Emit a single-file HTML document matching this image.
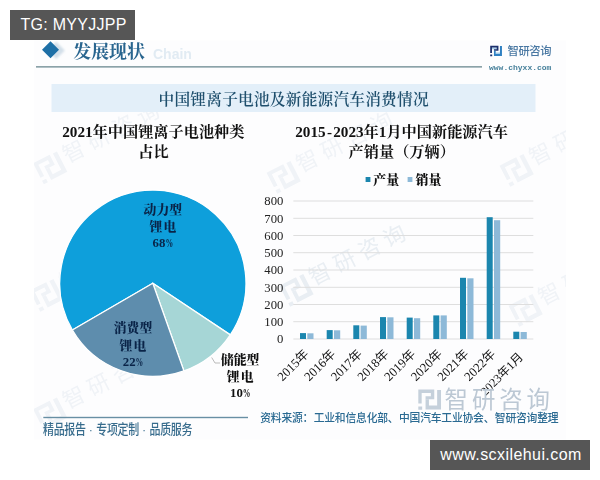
<!DOCTYPE html>
<html lang="zh-CN">
<head>
<meta charset="utf-8">
<title>中国锂离子电池及新能源汽车消费情况</title>
<style>
html,body{margin:0;padding:0;background:#fff;}
body{width:600px;height:480px;position:relative;overflow:hidden;font-family:"Liberation Sans",sans-serif;}
#chart{position:absolute;left:0;top:0;width:600px;height:480px;display:block;will-change:transform;}
#chart svg{display:block;}
.tag{position:absolute;background:#565656;color:#fff;font-family:"Liberation Sans",sans-serif;font-size:16px;line-height:30px;height:30px;padding:0 0 0 10.5px;letter-spacing:0.27px;white-space:nowrap;box-sizing:border-box;}
#tg{left:10px;top:10px;width:125px;}
#site{left:430px;top:440px;width:160px;letter-spacing:0.43px;padding-left:10.2px;}
</style>
</head>
<body>
<div id="chart">
<svg width="600" height="480" viewBox="0 0 600 480" role="img" aria-label="中国锂离子电池及新能源汽车消费情况">
<rect x="34" y="40.5" width="532" height="399" fill="#fdfdfe"/>
<clipPath id="imgclip"><rect x="34" y="40.5" width="532" height="399"/></clipPath>
<g clip-path="url(#imgclip)">
<g transform="translate(42 176.3) rotate(-27)" opacity="1.0"><g transform="translate(-2 -15.8) scale(2.2629)"><path fill="#f0f3f7" d="M0 0H8.25V5H3.75V3.5H6.5V1.75H1.75V7.25H0ZM0 8.75H2V10.5H0Z"/><path fill="#f0f3f7" d="M9.75 0.2H11.75V10.3H3.75V5H5.5V8.3H9.75Z"/></g><g transform="translate(28.6 0)" fill="#f0f3f7"><text x="0" y="0" font-family="'Liberation Sans','Noto Sans CJK SC',sans-serif" font-size="22" letter-spacing="5.8">智研咨询</text></g></g>
<g transform="translate(275.5 185.8) rotate(-27)" opacity="1.0"><g transform="translate(-2 -15.8) scale(2.2629)"><path fill="#f0f3f7" d="M0 0H8.25V5H3.75V3.5H6.5V1.75H1.75V7.25H0ZM0 8.75H2V10.5H0Z"/><path fill="#f0f3f7" d="M9.75 0.2H11.75V10.3H3.75V5H5.5V8.3H9.75Z"/></g><g transform="translate(28.6 0)" fill="#f0f3f7"><text x="0" y="0" font-family="'Liberation Sans','Noto Sans CJK SC',sans-serif" font-size="22" letter-spacing="5.8">智研咨询</text></g></g>
<g transform="translate(508.5 178.8) rotate(-27)" opacity="1.0"><g transform="translate(-2 -15.8) scale(2.2629)"><path fill="#f0f3f7" d="M0 0H8.25V5H3.75V3.5H6.5V1.75H1.75V7.25H0ZM0 8.75H2V10.5H0Z"/><path fill="#f0f3f7" d="M9.75 0.2H11.75V10.3H3.75V5H5.5V8.3H9.75Z"/></g><g transform="translate(28.6 0)" fill="#f0f3f7"><text x="0" y="0" font-family="'Liberation Sans','Noto Sans CJK SC',sans-serif" font-size="22" letter-spacing="5.8">智研咨询</text></g></g>
<g transform="translate(38.5 303.8) rotate(-27)" opacity="1.0"><g transform="translate(-2 -15.8) scale(2.2629)"><path fill="#f0f3f7" d="M0 0H8.25V5H3.75V3.5H6.5V1.75H1.75V7.25H0ZM0 8.75H2V10.5H0Z"/><path fill="#f0f3f7" d="M9.75 0.2H11.75V10.3H3.75V5H5.5V8.3H9.75Z"/></g><g transform="translate(28.6 0)" fill="#f0f3f7"><text x="0" y="0" font-family="'Liberation Sans','Noto Sans CJK SC',sans-serif" font-size="22" letter-spacing="5.8">智研咨询</text></g></g>
<g transform="translate(288.3 298.8) rotate(-27)" opacity="1.0"><g transform="translate(-2 -15.8) scale(2.2629)"><path fill="#e9eef3" d="M0 0H8.25V5H3.75V3.5H6.5V1.75H1.75V7.25H0ZM0 8.75H2V10.5H0Z"/><path fill="#e9eef3" d="M9.75 0.2H11.75V10.3H3.75V5H5.5V8.3H9.75Z"/></g><g transform="translate(28.6 0)" fill="#e9eef3"><text x="0" y="0" font-family="'Liberation Sans','Noto Sans CJK SC',sans-serif" font-size="22" letter-spacing="5.8">智研咨询</text></g></g>
<g transform="translate(517.5 318.8) rotate(-27)" opacity="1.0"><g transform="translate(-2 -15.8) scale(2.2629)"><path fill="#f0f3f7" d="M0 0H8.25V5H3.75V3.5H6.5V1.75H1.75V7.25H0ZM0 8.75H2V10.5H0Z"/><path fill="#f0f3f7" d="M9.75 0.2H11.75V10.3H3.75V5H5.5V8.3H9.75Z"/></g><g transform="translate(28.6 0)" fill="#f0f3f7"><text x="0" y="0" font-family="'Liberation Sans','Noto Sans CJK SC',sans-serif" font-size="22" letter-spacing="5.8">智研咨询</text></g></g>
<g transform="translate(42 422.3) rotate(-27)" opacity="1.0"><g transform="translate(-2 -15.8) scale(2.2629)"><path fill="#f0f3f7" d="M0 0H8.25V5H3.75V3.5H6.5V1.75H1.75V7.25H0ZM0 8.75H2V10.5H0Z"/><path fill="#f0f3f7" d="M9.75 0.2H11.75V10.3H3.75V5H5.5V8.3H9.75Z"/></g><g transform="translate(28.6 0)" fill="#f0f3f7"><text x="0" y="0" font-family="'Liberation Sans','Noto Sans CJK SC',sans-serif" font-size="22" letter-spacing="5.8">智研咨询</text></g></g>
</g>
<filter id="soft" x="-30%" y="-30%" width="160%" height="160%"><feGaussianBlur stdDeviation="0.9"/></filter>
<path fill="#d3dfe9" filter="url(#soft)" d="M47.6 50.4L56.2 41.8L64.8 50.4L56.2 59Z"/>
<path fill="#1d6fa6" d="M42 49.7L50.5 41.2L59 49.7L50.5 58.2Z"/>
<g transform="translate(73.3 57.7)" fill="#29658f"><title>发展现状</title><text x="0" y="0" font-family="'Liberation Serif','Noto Serif CJK SC',serif" font-weight="700" font-size="17.9">发展现状</text></g>
<text x="153" y="58.5" font-family="Liberation Sans" font-weight="700" font-size="14" fill="#e1ebf3">Chain</text>
<rect x="36" y="66.1" width="446" height="1.5" fill="#7f989f"/>
<g transform="translate(490.2 45.8) scale(1.0000)"><path fill="#a6cdea" d="M1.75 1.75H6.5V3.5H1.75ZM5.5 6.6H9.75V8.25H5.5Z"/><path fill="#1b2f6c" d="M0 0H8.25V5H3.75V3.5H6.5V1.75H1.75V7.25H0ZM0 8.75H2V10.5H0Z"/><path fill="#2f80c2" d="M9.75 0.2H11.75V10.3H3.75V5H5.5V8.3H9.75Z"/></g>
<g transform="translate(507.6 55.2)" fill="#4877a2"><title>智研咨询</title><text x="0" y="0" font-family="'Liberation Sans','Noto Sans CJK SC',sans-serif" font-weight="500" font-size="11.3" letter-spacing="-0.45">智研咨询</text></g>
<text x="489" y="69.6" font-family="Liberation Mono" font-weight="700" font-size="8" fill="#47809b" textLength="62.4">www.chyxx.com</text>
<rect x="51.5" y="84" width="484" height="28" fill="#e3eff9"/>
<g transform="translate(293.7 105)" fill="#1f4f6d"><title>中国锂离子电池及新能源汽车消费情况</title><text x="-135.15" y="0" font-family="'Liberation Serif','Noto Serif CJK SC',serif" font-weight="600" font-size="15.7" letter-spacing="0.21">中国锂离子电池及新能源汽车消费情况</text></g>
<g transform="translate(153.4 137.4)" fill="#111"><title>2021年中国锂离子电池种类</title><text x="-60.8" y="0" font-family="'Liberation Serif','Noto Serif CJK SC',serif" font-weight="700" font-size="15.2">年中国锂离子电池种类</text><text x="-91.2" y="0" font-family="Liberation Serif" font-weight="700" font-size="15.2">2021</text></g>
<g transform="translate(153.4 157)" fill="#111"><title>占比</title><text x="-15.2" y="0" font-family="'Liberation Serif','Noto Serif CJK SC',serif" font-weight="700" font-size="15.2">占比</text></g>
<g transform="translate(401.6 137.4)" fill="#111"><title>2015-2023年1月中国新能源汽车</title><text x="-38" y="0" font-family="'Liberation Serif','Noto Serif CJK SC',serif" font-weight="700" font-size="15.2">年</text><text x="-15.2" y="0" font-family="'Liberation Serif','Noto Serif CJK SC',serif" font-weight="700" font-size="15.2">月中国新能源汽车</text><text x="-106.4" y="0" font-family="Liberation Serif" font-weight="700" font-size="15.2">2015</text><text x="-68.4" y="0" font-family="Liberation Serif" font-weight="700" font-size="15.2">2023</text><text x="-22.8" y="0" font-family="Liberation Serif" font-weight="700" font-size="15.2">1</text><text x="-72.2" y="0" text-anchor="middle" font-family="Liberation Serif" font-weight="700" font-size="15.2">-</text></g>
<g transform="translate(401.8 157)" fill="#111"><title>产销量（万辆）</title><text x="-53.2" y="0" font-family="'Liberation Serif','Noto Serif CJK SC',serif" font-weight="700" font-size="15.2">产销量（万辆）</text></g>
<rect x="365.6" y="177" width="4.8" height="5" fill="#1b86ae"/>
<g transform="translate(373.2 184.4)" fill="#111"><title>产量</title><text x="0" y="0" font-family="'Liberation Serif','Noto Serif CJK SC',serif" font-weight="900" font-size="13">产量</text></g>
<rect x="407.6" y="177" width="4.8" height="5" fill="#8db9d8"/>
<g transform="translate(415.6 184.4)" fill="#111"><title>销量</title><text x="0" y="0" font-family="'Liberation Serif','Noto Serif CJK SC',serif" font-weight="900" font-size="13">销量</text></g>
<path fill="#0e9fdb" stroke="#fff" stroke-width="1.25" stroke-linejoin="round" d="M152.8 283.2L72.39 330.03A93.1 93.1 0 1 1 230.30 334.86Z"/>
<path fill="#a6d6d6" stroke="#fff" stroke-width="1.25" stroke-linejoin="round" d="M152.8 283.2L230.30 334.86A93.1 93.1 0 0 1 183.93 370.96Z"/>
<path fill="#5e8dad" stroke="#fff" stroke-width="1.25" stroke-linejoin="round" d="M152.8 283.2L183.93 370.96A93.1 93.1 0 0 1 72.39 330.03Z"/>
<ellipse cx="152.85" cy="283.2" rx="93.1" ry="93.1" fill="none" stroke="#fff" stroke-width="0"/>
<g transform="translate(162.8 213.6)" fill="#0a2448"><title>动力型</title><text x="-19.2" y="0" font-family="'Liberation Serif','Noto Serif CJK SC',serif" font-weight="900" font-size="12.8">动力型</text></g>
<g transform="translate(162.8 230.8)" fill="#0a2448"><title>锂电</title><text x="-13.4" y="0" font-family="'Liberation Serif','Noto Serif CJK SC',serif" font-weight="900" font-size="12.8" letter-spacing="1.2">锂电</text></g>
<g transform="translate(162.8 246.7)" fill="#0a2448"><title>68%</title><text x="-10.2" y="0" font-family="Liberation Serif" font-weight="700" font-size="12.8">68</text><text x="2.6" y="0" font-family="Liberation Serif" font-weight="700" font-size="12.8" textLength="7.7" lengthAdjust="spacingAndGlyphs">%</text></g>
<g transform="translate(133 332.4)" fill="#0a2448"><title>消费型</title><text x="-19.2" y="0" font-family="'Liberation Serif','Noto Serif CJK SC',serif" font-weight="900" font-size="12.8">消费型</text></g>
<g transform="translate(133 349.6)" fill="#0a2448"><title>锂电</title><text x="-13.4" y="0" font-family="'Liberation Serif','Noto Serif CJK SC',serif" font-weight="900" font-size="12.8" letter-spacing="1.2">锂电</text></g>
<g transform="translate(133 365.5)" fill="#0a2448"><title>22%</title><text x="-10.2" y="0" font-family="Liberation Serif" font-weight="700" font-size="12.8">22</text><text x="2.6" y="0" font-family="Liberation Serif" font-weight="700" font-size="12.8" textLength="7.7" lengthAdjust="spacingAndGlyphs">%</text></g>
<g transform="translate(240.2 363.6)" fill="#111"><title>储能型</title><text x="-19.2" y="0" font-family="'Liberation Serif','Noto Serif CJK SC',serif" font-weight="900" font-size="12.8">储能型</text></g>
<g transform="translate(240.2 380.8)" fill="#111"><title>锂电</title><text x="-13.4" y="0" font-family="'Liberation Serif','Noto Serif CJK SC',serif" font-weight="900" font-size="12.8" letter-spacing="1.2">锂电</text></g>
<g transform="translate(240.2 396.7)" fill="#111"><title>10%</title><text x="-10.2" y="0" font-family="Liberation Serif" font-weight="700" font-size="12.8">10</text><text x="2.6" y="0" font-family="Liberation Serif" font-weight="700" font-size="12.8" textLength="7.7" lengthAdjust="spacingAndGlyphs">%</text></g>
<path d="M211.7 357.5L215 363H220" fill="none" stroke="#aaa" stroke-width="0.8"/>
<rect x="293.3" y="338.5" width="240" height="1" fill="#dedede"/>
<text x="283.4" y="343.3" text-anchor="end" font-family="Liberation Serif" font-size="12.7" fill="#222">0</text>
<rect x="293.3" y="321.2" width="240" height="1" fill="#dedede"/>
<text x="283.4" y="326.1" text-anchor="end" font-family="Liberation Serif" font-size="12.7" fill="#222">100</text>
<rect x="293.3" y="304" width="240" height="1" fill="#dedede"/>
<text x="283.4" y="308.8" text-anchor="end" font-family="Liberation Serif" font-size="12.7" fill="#222">200</text>
<rect x="293.3" y="286.8" width="240" height="1" fill="#dedede"/>
<text x="283.4" y="291.6" text-anchor="end" font-family="Liberation Serif" font-size="12.7" fill="#222">300</text>
<rect x="293.3" y="269.5" width="240" height="1" fill="#dedede"/>
<text x="283.4" y="274.3" text-anchor="end" font-family="Liberation Serif" font-size="12.7" fill="#222">400</text>
<rect x="293.3" y="252.2" width="240" height="1" fill="#dedede"/>
<text x="283.4" y="257.1" text-anchor="end" font-family="Liberation Serif" font-size="12.7" fill="#222">500</text>
<rect x="293.3" y="235" width="240" height="1" fill="#dedede"/>
<text x="283.4" y="239.8" text-anchor="end" font-family="Liberation Serif" font-size="12.7" fill="#222">600</text>
<rect x="293.3" y="217.8" width="240" height="1" fill="#dedede"/>
<text x="283.4" y="222.6" text-anchor="end" font-family="Liberation Serif" font-size="12.7" fill="#222">700</text>
<rect x="293.3" y="200.5" width="240" height="1" fill="#dedede"/>
<text x="283.4" y="205.3" text-anchor="end" font-family="Liberation Serif" font-size="12.7" fill="#222">800</text>
<rect x="300" y="333.1" width="6" height="5.9" fill="#1b86ae"/>
<rect x="307.3" y="333.3" width="6.2" height="5.7" fill="#8db9d8"/>
<g transform="translate(309.5 354.7) rotate(-45)" fill="#111"><title>2015年</title><text x="-12.7" y="0" font-family="'Liberation Sans','Noto Sans CJK SC',sans-serif" font-size="12.7">年</text><text x="-38.1" y="0" font-family="Liberation Serif" font-weight="400" font-size="12.7">2015</text></g>
<rect x="326.7" y="330.1" width="6" height="8.9" fill="#1b86ae"/>
<rect x="334" y="330.3" width="6.2" height="8.7" fill="#8db9d8"/>
<g transform="translate(336.2 354.7) rotate(-45)" fill="#111"><title>2016年</title><text x="-12.7" y="0" font-family="'Liberation Sans','Noto Sans CJK SC',sans-serif" font-size="12.7">年</text><text x="-38.1" y="0" font-family="Liberation Serif" font-weight="400" font-size="12.7">2016</text></g>
<rect x="353.3" y="325.3" width="6" height="13.7" fill="#1b86ae"/>
<rect x="360.6" y="325.6" width="6.2" height="13.4" fill="#8db9d8"/>
<g transform="translate(362.9 354.7) rotate(-45)" fill="#111"><title>2017年</title><text x="-12.7" y="0" font-family="'Liberation Sans','Noto Sans CJK SC',sans-serif" font-size="12.7">年</text><text x="-38.1" y="0" font-family="Liberation Serif" font-weight="400" font-size="12.7">2017</text></g>
<rect x="380" y="317.1" width="6" height="21.9" fill="#1b86ae"/>
<rect x="387.3" y="317.3" width="6.2" height="21.7" fill="#8db9d8"/>
<g transform="translate(389.5 354.7) rotate(-45)" fill="#111"><title>2018年</title><text x="-12.7" y="0" font-family="'Liberation Sans','Noto Sans CJK SC',sans-serif" font-size="12.7">年</text><text x="-38.1" y="0" font-family="Liberation Serif" font-weight="400" font-size="12.7">2018</text></g>
<rect x="406.7" y="317.6" width="6" height="21.4" fill="#1b86ae"/>
<rect x="414" y="318.2" width="6.2" height="20.8" fill="#8db9d8"/>
<g transform="translate(416.2 354.7) rotate(-45)" fill="#111"><title>2019年</title><text x="-12.7" y="0" font-family="'Liberation Sans','Noto Sans CJK SC',sans-serif" font-size="12.7">年</text><text x="-38.1" y="0" font-family="Liberation Serif" font-weight="400" font-size="12.7">2019</text></g>
<rect x="433.3" y="315.4" width="6" height="23.6" fill="#1b86ae"/>
<rect x="440.6" y="315.4" width="6.2" height="23.6" fill="#8db9d8"/>
<g transform="translate(442.9 354.7) rotate(-45)" fill="#111"><title>2020年</title><text x="-12.7" y="0" font-family="'Liberation Sans','Noto Sans CJK SC',sans-serif" font-size="12.7">年</text><text x="-38.1" y="0" font-family="Liberation Serif" font-weight="400" font-size="12.7">2020</text></g>
<rect x="460" y="277.8" width="6" height="61.2" fill="#1b86ae"/>
<rect x="467.3" y="278.3" width="6.2" height="60.7" fill="#8db9d8"/>
<g transform="translate(469.5 354.7) rotate(-45)" fill="#111"><title>2021年</title><text x="-12.7" y="0" font-family="'Liberation Sans','Noto Sans CJK SC',sans-serif" font-size="12.7">年</text><text x="-38.1" y="0" font-family="Liberation Serif" font-weight="400" font-size="12.7">2021</text></g>
<rect x="486.7" y="217.2" width="6" height="121.8" fill="#1b86ae"/>
<rect x="494" y="220.2" width="6.2" height="118.8" fill="#8db9d8"/>
<g transform="translate(496.2 354.7) rotate(-45)" fill="#111"><title>2022年</title><text x="-12.7" y="0" font-family="'Liberation Sans','Noto Sans CJK SC',sans-serif" font-size="12.7">年</text><text x="-38.1" y="0" font-family="Liberation Serif" font-weight="400" font-size="12.7">2022</text></g>
<rect x="513.3" y="331.7" width="6" height="7.3" fill="#1b86ae"/>
<rect x="520.6" y="332" width="6.2" height="7" fill="#8db9d8"/>
<g transform="translate(523.9 357.7) rotate(-45)" fill="#111"><title>2023年1月</title><text x="-30.25" y="0" font-family="'Liberation Sans','Noto Sans CJK SC',sans-serif" font-size="12.1">年</text><text x="-12.1" y="0" font-family="'Liberation Sans','Noto Sans CJK SC',sans-serif" font-size="12.1">月</text><text x="-54.4" y="0" font-family="Liberation Serif" font-weight="400" font-size="12.1">2023</text><text x="-18.2" y="0" font-family="Liberation Serif" font-weight="400" font-size="12.1">1</text></g>
<g transform="translate(418.3 389.5) scale(1.9333)"><path fill="#c5d0db" d="M0 0H8.25V5H3.75V3.5H6.5V1.75H1.75V7.25H0ZM0 8.75H2V10.5H0Z"/><path fill="#c5d0db" d="M9.75 0.2H11.75V10.3H3.75V5H5.5V8.3H9.75Z"/></g>
<g transform="translate(444.6 407.9)" fill="#bcc8d4"><title>智研咨询</title><text x="0" y="0" font-family="'Liberation Sans','Noto Sans CJK SC',sans-serif" font-size="23.4" letter-spacing="3.9">智研咨询</text></g>
<rect x="43.3" y="416.8" width="204.7" height="1.4" fill="#688fa4"/>
<g transform="translate(43 434.2)" fill="#366b8c"><title>精品报告·专项定制·品质服务</title><text transform="scale(0.8333 1)" x="0 12.78 25.57 38.35 55.34 63.92 76.71 89.49 102.27 119.26 127.84 140.63 153.41 166.2" y="0" font-family="'Liberation Sans','Noto Sans CJK SC',sans-serif" font-weight="500" font-size="13.2">精品报告·专项定制·品质服务</text></g>
<g transform="translate(260.2 422.3)" fill="#2a6a92"><title>资料来源：工业和信息化部、中国汽车工业协会、智研咨询整理</title><text transform="scale(0.9432 1)" x="0" y="0" font-family="'Liberation Sans','Noto Sans CJK SC',sans-serif" font-weight="500" font-size="11.45" letter-spacing="-0.2">资料来源：<tspan dx="0.57">工业和信息化部、</tspan><tspan dx="0.57">中国汽车工业协会、</tspan><tspan dx="0.57">智研咨询整理</tspan></text></g>
</svg>
</div>
<div class="tag" id="tg">TG: MYYJJPP</div>
<div class="tag" id="site">www.scxilehui.com</div>
</body>
</html>
